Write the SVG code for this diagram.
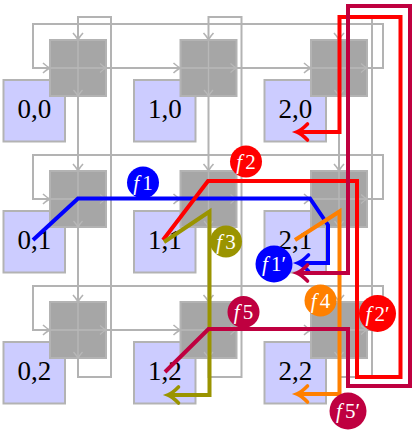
<svg xmlns="http://www.w3.org/2000/svg" width="412" height="431" viewBox="0 0 412 431">
<style>
.tile{fill:#ccccff;stroke:#b3b3b3;stroke-width:2}
.router{fill:#a6a6a6;stroke:#b3b3b3;stroke-width:2}
.tl{font-family:"Liberation Serif",serif;font-size:27px;fill:#000;text-anchor:middle}
.link{fill:none;stroke:#b3b3b3;stroke-width:2;marker-end:url(#ga)}
.xl{fill:none;stroke:#b8b8b8;stroke-width:1.4;marker-end:url(#gi)}
.flow{fill:none;stroke-width:4;stroke-linejoin:miter}
.lb{font-family:"Liberation Serif",serif;font-size:21px;fill:#fff;text-anchor:middle}
.lb tspan.f{font-style:italic}
</style>
<defs>
<marker id="ga" viewBox="-9 -6 12 12" refX="0" refY="0" markerWidth="12" markerHeight="12" markerUnits="userSpaceOnUse" orient="auto" overflow="visible"><path d="M-7,-5 Q-2.5,-1 0,0 Q-2.5,1 -7,5" fill="none" stroke="#b3b3b3" stroke-width="1.6"/></marker>
<marker id="gi" viewBox="-9 -6 12 12" refX="0" refY="0" markerWidth="12" markerHeight="12" markerUnits="userSpaceOnUse" orient="auto" overflow="visible"><path d="M-6,-4.5 Q-2,-1 0,0 Q-2,1 -6,4.5" fill="none" stroke="#b8b8b8" stroke-width="1.3"/></marker>
<marker id="ab" viewBox="-12 -10 16 20" refX="0" refY="0" markerWidth="16" markerHeight="20" markerUnits="userSpaceOnUse" orient="auto" overflow="visible"><path d="M-9.5,-8 Q-3,-1.5 1,0 Q-3,1.5 -9.5,8" fill="none" stroke="#0000ff" stroke-width="3.6" stroke-linecap="round"/></marker>
<marker id="ar" viewBox="-12 -10 16 20" refX="0" refY="0" markerWidth="16" markerHeight="20" markerUnits="userSpaceOnUse" orient="auto" overflow="visible"><path d="M-9.5,-8 Q-3,-1.5 1,0 Q-3,1.5 -9.5,8" fill="none" stroke="#ff0000" stroke-width="3.6" stroke-linecap="round"/></marker>
<marker id="ao" viewBox="-12 -10 16 20" refX="0" refY="0" markerWidth="16" markerHeight="20" markerUnits="userSpaceOnUse" orient="auto" overflow="visible"><path d="M-9.5,-8 Q-3,-1.5 1,0 Q-3,1.5 -9.5,8" fill="none" stroke="#9a9400" stroke-width="3.6" stroke-linecap="round"/></marker>
<marker id="an" viewBox="-12 -10 16 20" refX="0" refY="0" markerWidth="16" markerHeight="20" markerUnits="userSpaceOnUse" orient="auto" overflow="visible"><path d="M-9.5,-8 Q-3,-1.5 1,0 Q-3,1.5 -9.5,8" fill="none" stroke="#ff8000" stroke-width="3.6" stroke-linecap="round"/></marker>
<marker id="ap" viewBox="-12 -10 16 20" refX="0" refY="0" markerWidth="16" markerHeight="20" markerUnits="userSpaceOnUse" orient="auto" overflow="visible"><path d="M-9.5,-8 Q-3,-1.5 1,0 Q-3,1.5 -9.5,8" fill="none" stroke="#bf0040" stroke-width="3.6" stroke-linecap="round"/></marker>
</defs>
<rect width="412" height="431" fill="#fff"/>

<g id="tiles">
<g id="tile-0-0"><rect class="tile" x="3.5" y="80" width="61.5" height="61.5"/><text class="tl" x="34.25" y="118">0,0</text></g>
<g id="tile-1-0"><rect class="tile" x="134" y="80" width="61.5" height="61.5"/><text class="tl" x="164.75" y="118">1,0</text></g>
<g id="tile-2-0"><rect class="tile" x="264.5" y="80" width="61.5" height="61.5"/><text class="tl" x="295.25" y="118">2,0</text></g>
<g id="tile-0-1"><rect class="tile" x="3.5" y="211" width="61.5" height="61.5"/><text class="tl" x="34.25" y="249">0,1</text></g>
<g id="tile-1-1"><rect class="tile" x="134" y="211" width="61.5" height="61.5"/><text class="tl" x="164.75" y="249">1,1</text></g>
<g id="tile-2-1"><rect class="tile" x="264.5" y="211" width="61.5" height="61.5"/><text class="tl" x="295.25" y="249">2,1</text></g>
<g id="tile-0-2"><rect class="tile" x="3.5" y="342" width="61.5" height="61.5"/><text class="tl" x="34.25" y="380">0,2</text></g>
<g id="tile-1-2"><rect class="tile" x="134" y="342" width="61.5" height="61.5"/><text class="tl" x="164.75" y="380">1,2</text></g>
<g id="tile-2-2"><rect class="tile" x="264.5" y="342" width="61.5" height="61.5"/><text class="tl" x="295.25" y="380">2,2</text></g>
</g>

<g id="routers">
<g id="router-0-0"><rect class="router" x="50" y="40" width="56" height="56"/></g>
<g id="router-1-0"><rect class="router" x="180.5" y="40" width="56" height="56"/></g>
<g id="router-2-0"><rect class="router" x="311" y="40" width="56" height="56"/></g>
<g id="router-0-1"><rect class="router" x="50" y="171" width="56" height="56"/></g>
<g id="router-1-1"><rect class="router" x="180.5" y="171" width="56" height="56"/></g>
<g id="router-2-1"><rect class="router" x="311" y="171" width="56" height="56"/></g>
<g id="router-0-2"><rect class="router" x="50" y="302" width="56" height="56"/></g>
<g id="router-1-2"><rect class="router" x="180.5" y="302" width="56" height="56"/></g>
<g id="router-2-2"><rect class="router" x="311" y="302" width="56" height="56"/></g>
</g>

<g id="connectors">
<g id="router-internals">
<path class="xl" d="M50,68H106"/><path class="xl" d="M78,40V96"/>
<path class="xl" d="M180.5,68H236.5"/><path class="xl" d="M208.5,40V96"/>
<path class="xl" d="M311,68H367"/><path class="xl" d="M339,40V96"/>
<path class="xl" d="M50,199H106"/><path class="xl" d="M78,171V227"/>
<path class="xl" d="M180.5,199H236.5"/><path class="xl" d="M208.5,171V227"/>
<path class="xl" d="M311,199H367"/><path class="xl" d="M339,171V227"/>
<path class="xl" d="M50,330H106"/><path class="xl" d="M78,302V358"/>
<path class="xl" d="M180.5,330H236.5"/><path class="xl" d="M208.5,302V358"/>
<path class="xl" d="M311,330H367"/><path class="xl" d="M339,302V358"/>
</g>
<g id="links">
<path class="link" d="M367,68H383V24H33V68H50"/>
<path class="link" d="M106,68H180.5"/><path class="link" d="M236.5,68H311"/>
<path class="link" d="M367,199H383V155H33V199H50"/>
<path class="link" d="M106,199H180.5"/><path class="link" d="M236.5,199H311"/>
<path class="link" d="M367,330H383V286H33V330H50"/>
<path class="link" d="M106,330H180.5"/><path class="link" d="M236.5,330H311"/>
<path class="link" d="M78,358V377H111V17H78V40"/>
<path class="link" d="M78,96V171"/><path class="link" d="M78,227V302"/>
<path class="link" d="M208.5,358V377H241.5V17H208.5V40"/>
<path class="link" d="M208.5,96V171"/><path class="link" d="M208.5,227V302"/>
<path class="link" d="M339,358V377H372V17H339V40"/>
<path class="link" d="M339,96V171"/><path class="link" d="M339,227V302"/>
</g>
<g id="flows">
<path id="f1" class="flow" stroke="#0000ff" marker-end="url(#ab)" d="M33,240L78,198.5H310L328,225V263H299"/>
<path id="f2" class="flow" stroke="#ff0000" marker-end="url(#ar)" d="M163,240L208,181H357V377H400.5V17H339.5V132H298"/>
<path id="f3" class="flow" stroke="#9a9400" marker-end="url(#ao)" d="M164,242L209.5,211.5V395H169"/>
<path id="f4" class="flow" stroke="#ff8000" marker-end="url(#an)" d="M295,240L339.5,211.5V394H298"/>
<path id="f5" class="flow" stroke="#bf0040" marker-end="url(#ap)" d="M165,372L208.5,329H348V386H410V6H348V273H298"/>
</g>
</g>

<g id="labels">
<g id="lbl-f1"><circle cx="143" cy="182.5" r="16" fill="#0000ff"/><text class="lb" x="143" y="189.5"><tspan class="f">f</tspan><tspan dx="3">1</tspan></text></g>
<g id="lbl-f2"><circle cx="246" cy="161.5" r="16" fill="#ff0000"/><text class="lb" x="246" y="168.5"><tspan class="f">f</tspan><tspan dx="3">2</tspan></text></g>
<g id="lbl-f3"><circle cx="226" cy="241.5" r="16" fill="#9a9400"/><text class="lb" x="226" y="248.5"><tspan class="f">f</tspan><tspan dx="3">3</tspan></text></g>
<g id="lbl-f1p"><circle cx="274" cy="264" r="18.5" fill="#0000ff"/><text class="lb" x="274" y="271"><tspan class="f">f</tspan><tspan dx="3">1′</tspan></text></g>
<g id="lbl-f4"><circle cx="320.5" cy="300.5" r="16" fill="#ff8000"/><text class="lb" x="320.5" y="307.5"><tspan class="f">f</tspan><tspan dx="3">4</tspan></text></g>
<g id="lbl-f2p"><circle cx="377.5" cy="313.5" r="18.5" fill="#ff0000"/><text class="lb" x="377.5" y="320.5"><tspan class="f">f</tspan><tspan dx="3">2′</tspan></text></g>
<g id="lbl-f5"><circle cx="243.5" cy="312" r="16" fill="#bf0040"/><text class="lb" x="243.5" y="319"><tspan class="f">f</tspan><tspan dx="3">5</tspan></text></g>
<g id="lbl-f5p"><circle cx="348" cy="411" r="18.5" fill="#bf0040"/><text class="lb" x="348" y="418"><tspan class="f">f</tspan><tspan dx="3">5′</tspan></text></g>
</g>
</svg>
